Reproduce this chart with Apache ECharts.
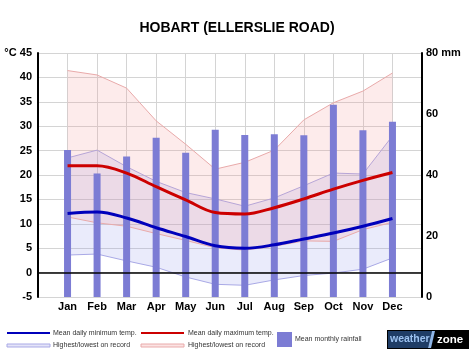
<!DOCTYPE html>
<html>
<head>
<meta charset="utf-8">
<title>Hobart (Ellerslie Road) climate</title>
<script src="https://cdn.jsdelivr.net/npm/echarts@6.0.0/dist/echarts.min.js"></script>
<style>
  html, body { margin: 0; padding: 0; background: #fff; }
  #chart { width: 474px; height: 355px; }
</style>
</head>
<body>
<div id="chart"></div>
<script>
// month labels (padded with an empty slot either side on the axis)
var months = ['Jan', 'Feb', 'Mar', 'Apr', 'May', 'Jun', 'Jul', 'Aug', 'Sep', 'Oct', 'Nov', 'Dec']
// mean monthly rainfall, mm
var rainfall = [48.2, 40.5, 46.1, 52.2, 47.3, 54.8, 53.1, 53.4, 53.0, 63.0, 54.7, 57.5]
// mean daily max / min temp, °C
var maxMean = [21.9, 21.9, 20.4, 17.6, 14.9, 12.3, 12.0, 13.3, 15.1, 17.1, 18.9, 20.5]
var minMean = [12.1, 12.4, 11.2, 9.2, 7.4, 5.5, 5.0, 5.7, 6.9, 8.1, 9.5, 11.1]
// highest / lowest on record for the max temp
var maxHigh = [41.4, 40.5, 37.8, 31.1, 26.3, 21.2, 22.6, 25.1, 31.3, 34.8, 37.2, 40.9]
var maxLow = [11.4, 10.2, 9.5, 8.0, 6.6, 5.1, 4.6, 5.4, 6.5, 6.4, 8.8, 10.3]
// highest / lowest on record for the min temp
var minHigh = [23.5, 25.1, 21.7, 18.7, 16.4, 15.1, 13.6, 15.3, 17.8, 20.4, 20.2, 28.0]
var minLow = [3.6, 3.8, 2.4, 1.1, -0.9, -2.4, -2.6, -1.5, -0.6, -0.1, 0.7, 3.0]

var FONT = 'Liberation Sans, Arial, Helvetica, sans-serif'

// pad a month array so it sits on slots 1..12 of the 14-slot axis
function pad (arr) {
  return ['-'].concat(arr).concat(['-'])
}
function diff (hi, lo) {
  return hi.map(function (v, i) { return +(v - lo[i]).toFixed(2) })
}

var cats = [''].concat(months).concat([''])

var chart = echarts.init(document.getElementById('chart'))

var option = {
  backgroundColor: '#fff',
  animation: false,
  textStyle: { fontFamily: FONT },
  title: {
    text: 'HOBART (ELLERSLIE ROAD)',
    left: 'center',
    top: 16,
    textStyle: { fontSize: 14, fontWeight: 'bold', color: '#000', fontFamily: FONT }
  },
  grid: { left: 38, right: 52, top: 53, bottom: 58 },
  xAxis: {
    type: 'category',
    data: cats,
    boundaryGap: false,
    axisLine: { show: false },
    axisTick: { show: false },
    splitLine: { show: true, lineStyle: { color: '#d4d4d4', width: 1 } },
    axisLabel: { interval: 0, margin: 4, color: '#000', fontSize: 11, fontWeight: 'bold', fontFamily: FONT }
  },
  yAxis: [
    {
      type: 'value',
      min: -5,
      max: 45,
      interval: 5,
      axisLine: { show: true, lineStyle: { color: '#000', width: 2 } },
      axisTick: { show: false },
      splitLine: { show: true, lineStyle: { color: '#d4d4d4', width: 1 } },
      axisLabel: {
        margin: 6,
        color: '#000',
        fontSize: 11,
        fontWeight: 'bold',
        fontFamily: FONT,
        formatter: function (v) { return v === 45 ? '°C 45' : v }
      }
    },
    {
      type: 'value',
      min: 0,
      max: 80,
      interval: 20,
      position: 'right',
      axisLine: { show: true, lineStyle: { color: '#000', width: 2 } },
      axisTick: { show: false },
      splitLine: { show: false },
      axisLabel: {
        margin: 4,
        color: '#000',
        fontSize: 11,
        fontWeight: 'bold',
        fontFamily: FONT,
        formatter: function (v) { return v === 80 ? '80 mm' : v }
      }
    }
  ],
  series: [
    // blue band: lowest min .. highest min
    {
      type: 'line',
      stack: 'minband',
      stackStrategy: 'all',
      data: pad(minLow),
      symbol: 'none',
      lineStyle: { color: '#a9a9e6', width: 1 },
      z: 1,
      markLine: {
        silent: true,
        symbol: 'none',
        label: { show: false },
        lineStyle: { color: '#000', width: 1.5, type: 'solid' },
        data: [{ yAxis: 0 }]
      }
    },
    {
      type: 'line',
      stack: 'minband',
      stackStrategy: 'all',
      data: pad(diff(minHigh, minLow)),
      symbol: 'none',
      lineStyle: { color: '#a9a9e6', width: 1 },
      areaStyle: { color: 'rgba(150,155,235,0.28)' },
      z: 1
    },
    // red band: lowest max .. highest max
    {
      type: 'line',
      stack: 'maxband',
      stackStrategy: 'all',
      data: pad(maxLow),
      symbol: 'none',
      lineStyle: { color: '#e9aaaa', width: 1 },
      z: 2
    },
    {
      type: 'line',
      stack: 'maxband',
      stackStrategy: 'all',
      data: pad(diff(maxHigh, maxLow)),
      symbol: 'none',
      lineStyle: { color: '#e9aaaa', width: 1 },
      areaStyle: { color: 'rgba(245,150,150,0.27)' },
      z: 2
    },
    {
      name: 'Mean monthly rainfall',
      type: 'bar',
      yAxisIndex: 1,
      data: pad(rainfall),
      barWidth: 7,
      itemStyle: { color: '#7c7cd4' },
      z: 3
    },
    {
      name: 'Mean daily maximum temp.',
      type: 'line',
      data: pad(maxMean),
      smooth: 0.35,
      symbol: 'none',
      lineStyle: { color: '#cc0000', width: 3 },
      z: 4
    },
    {
      name: 'Mean daily minimum temp.',
      type: 'line',
      data: pad(minMean),
      smooth: 0.35,
      symbol: 'none',
      lineStyle: { color: '#0000bb', width: 3 },
      z: 4
    }
  ],
  graphic: [
    // legend, row 1
    { type: 'line', shape: { x1: 7, y1: 333, x2: 50, y2: 333 }, style: { stroke: '#0000bb', lineWidth: 2 } },
    { type: 'text', x: 53, y: 333, style: { text: 'Mean daily minimum temp.', font: '7px ' + FONT, fill: '#333', textVerticalAlign: 'middle' } },
    { type: 'line', shape: { x1: 141, y1: 333, x2: 184, y2: 333 }, style: { stroke: '#cc0000', lineWidth: 2 } },
    { type: 'text', x: 188, y: 333, style: { text: 'Mean daily maximum temp.', font: '7px ' + FONT, fill: '#333', textVerticalAlign: 'middle' } },
    // legend, row 2
    { type: 'rect', shape: { x: 7, y: 344, width: 43, height: 3 }, style: { fill: '#e4e4f8', stroke: '#a9a9e6', lineWidth: 1 } },
    { type: 'text', x: 53, y: 345.5, style: { text: 'Highest/lowest on record', font: '7px ' + FONT, fill: '#333', textVerticalAlign: 'middle' } },
    { type: 'rect', shape: { x: 141, y: 344, width: 43, height: 3 }, style: { fill: '#fbe3e3', stroke: '#e9aaaa', lineWidth: 1 } },
    { type: 'text', x: 188, y: 345.5, style: { text: 'Highest/lowest on record', font: '7px ' + FONT, fill: '#333', textVerticalAlign: 'middle' } },
    // rainfall swatch
    { type: 'rect', shape: { x: 277, y: 332, width: 15, height: 15 }, style: { fill: '#7c7cd4' } },
    { type: 'text', x: 295, y: 339, style: { text: 'Mean monthly rainfall', font: '7px ' + FONT, fill: '#333', textVerticalAlign: 'middle' } },
    // weatherzone logo
    { type: 'rect', shape: { x: 387, y: 330, width: 82, height: 19 }, style: { fill: '#000' } },
    { type: 'polygon', shape: { points: [[388, 331], [432, 331], [428, 348], [388, 348]] }, style: { fill: '#1f3d66' } },
    { type: 'polygon', shape: { points: [[432, 331], [435, 331], [431, 348], [428, 348]] }, style: { fill: '#8fb6e8' } },
    { type: 'text', x: 390, y: 339.5, style: { text: 'weather', font: 'bold 10.5px ' + FONT, fill: '#9cc2f0', textVerticalAlign: 'middle' } },
    { type: 'text', x: 437, y: 339.5, style: { text: 'zone', font: 'bold 11.5px ' + FONT, fill: '#fff', textVerticalAlign: 'middle' } }
  ]
}

chart.setOption(option)
</script>
</body>
</html>
